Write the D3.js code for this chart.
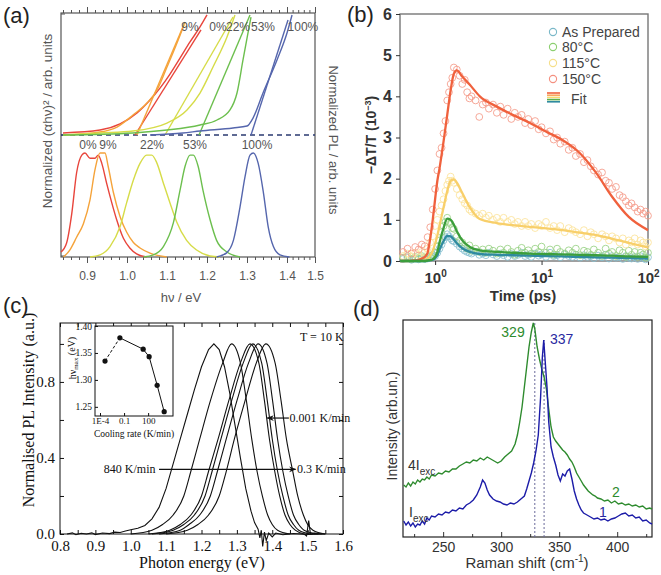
<!DOCTYPE html>
<html><head><meta charset="utf-8">
<script src="https://cdn.jsdelivr.net/npm/d3@7/dist/d3.min.js"></script>
<style>
body{margin:0;background:#fff;}
svg{display:block;}
.sans{font-family:"Liberation Sans",Arial,Helvetica,sans-serif;}
.serif{font-family:"Liberation Serif","Times New Roman",serif;}
</style></head><body>
<svg id="fig" width="661" height="575"></svg>
<script>
// ================= DATA =================
// ---- (a) absorption (αhν)^2 and PL, hv in eV
const aTickLabels=[0.9,1.0,1.1,1.2,1.3,1.4,1.5];
const aSeries=["0%","9%","22%","53%","100%"];
const absRed=[[0.84,0.017],[0.9325,0.041],[0.9825,0.091],[1.025,0.182],[1.0575,0.289],[1.0825,0.388],[1.1075,0.504],[1.1325,0.636],[1.1575,0.769],[1.1825,0.893],[1.20,0.992]];
const absOrange=[[0.84,0],[0.9325,0.025],[0.975,0.066],[1.015,0.165],[1.05,0.264],[1.075,0.372],[1.10,0.562],[1.125,0.76],[1.1425,0.909]];
const absYellow=[[0.84,0],[0.9325,0.017],[1.015,0.033],[1.10,0.099],[1.15,0.207],[1.1825,0.347],[1.215,0.562],[1.25,0.81],[1.27,0.992]];
const absGreen=[[0.84,0],[1.015,0.017],[1.10,0.041],[1.1825,0.083],[1.225,0.124],[1.2575,0.207],[1.275,0.347],[1.29,0.62],[1.3025,0.843],[1.31,0.975]];
const absBlue=[[1.0575,0],[1.14,0.017],[1.1825,0.033],[1.265,0.058],[1.30,0.074],[1.315,0.14],[1.34,0.347],[1.375,0.62],[1.40,0.843],[1.418,0.992]];
const fitRed=[[1.02,0],[1.185,0.868]];
const fitOrange=[[1.025,0],[1.145,0.934]];
const fitYellow=[[1.095,0],[1.265,0.975]];
const fitGreen=[[1.18,0],[1.3075,0.992]];
const fitBlue=[[1.31,0],[1.4036,0.95]];
const plRed=[[0.835,0.048],[0.849,0.135],[0.862,0.42],[0.874,0.81],[0.887,0.98],[0.895,1.0],[0.9075,0.95],[0.92,0.95],[0.928,0.98],[0.937,0.90],[0.949,0.71],[0.962,0.52],[0.974,0.36],[0.991,0.18],[1.007,0.087],[1.024,0.03],[1.049,0]];
const plOrange=[[0.841,0],[0.857,0.067],[0.874,0.19],[0.891,0.32],[0.9075,0.55],[0.92,0.84],[0.9325,1.0],[0.945,1.0],[0.953,0.87],[0.966,0.62],[0.9825,0.39],[0.999,0.24],[1.016,0.14],[1.0325,0.087],[1.0575,0.038],[1.099,0]];
const plYellow=[[0.9075,0],[0.9325,0.02],[0.9575,0.1],[0.9825,0.29],[0.999,0.52],[1.016,0.74],[1.0325,0.90],[1.049,0.98],[1.062,0.98],[1.074,0.91],[1.091,0.71],[1.1075,0.52],[1.124,0.34],[1.149,0.16],[1.174,0.067],[1.2075,0.01],[1.2325,0]];
const plGreen=[[1.041,0],[1.066,0.02],[1.091,0.1],[1.116,0.33],[1.1325,0.64],[1.145,0.87],[1.1575,0.98],[1.166,0.98],[1.178,0.87],[1.19,0.64],[1.2075,0.36],[1.224,0.16],[1.249,0.05],[1.2825,0]];
const plBlue=[[1.224,0],[1.249,0.04],[1.266,0.16],[1.2825,0.48],[1.295,0.77],[1.3075,0.98],[1.316,1.0],[1.328,0.90],[1.341,0.62],[1.353,0.29],[1.366,0.1],[1.3825,0.02],[1.4084,0]];
const absTopLabelHv=[1.2275,1.1575,1.2775,1.34,1.457];   // 0%,9%,22%,53%,100%
const plLabelHv=[0.9025,0.9525,1.0625,1.17,1.325];

// ---- (b) transient absorption, time in ps, -ΔT/T in 1e-3
const bSeries=["As Prepared","80°C","115°C","150°C"];
const bYTicks=[0,1,2,3,4,5,6];
const bXTicks=[1,10,100];
const tB=[0.5,0.55,0.6,0.65,0.7,0.75,0.8,0.85,0.9,0.95,
1.0,1.05,1.1,1.15,1.2,1.25,1.3,1.35,1.4,1.45,
1.5,1.6,1.7,1.8,1.9,2.0,2.1,2.2,2.4,2.6,
2.8,3.0,3.2,3.5,3.8,4.1,4.4,4.8,5.2,5.6,
6.0,6.5,7.0,7.5,8.0,8.7,9.4,10,11,12,
13,14,15,16.5,18,19.5,21,23,25,27,
29,31,34,37,40,43,46,50,54,58,
62,66,70,75,80,85,90,95,100];
const v150=[.22,.30,.18,.34,.28,.40,.36,.58,.82,1.25,
1.75,2.2,2.6,2.75,3.1,3.4,3.9,4.1,4.3,4.45,
4.7,4.65,4.5,4.3,4.4,4.1,3.95,4.0,3.9,3.5,
3.8,3.85,3.7,3.8,3.6,3.75,3.55,3.7,3.45,3.6,
3.5,3.55,3.35,3.45,3.3,3.4,3.2,3.25,3.1,3.15,
2.95,3.0,2.85,2.9,2.7,2.75,2.55,2.6,2.4,2.45,
2.3,2.2,2.1,2.15,1.95,1.9,1.75,1.8,1.6,1.55,
1.45,1.35,1.4,1.3,1.2,1.25,1.15,1.2,1.1];
const v115=[.12,.18,.10,.20,.15,.22,.20,.30,.45,.60,
.85,1.0,1.2,1.35,1.5,1.7,1.85,1.95,2.05,1.95,
1.9,1.75,1.6,1.5,1.4,1.35,1.25,1.2,1.15,1.1,
1.15,1.05,1.1,1.0,1.05,.95,1.05,.95,1.0,.9,
.95,.85,.95,.85,.9,.8,.9,.85,.95,.8,
.85,.75,.85,.7,.8,.75,.7,.65,.75,.6,
.7,.65,.55,.65,.6,.5,.6,.55,.45,.55,
.4,.5,.45,.55,.4,.5,.45,.35,.45];
const v80=[.08,.12,.05,.10,.06,.12,.08,.10,.12,.15,
.20,.35,.50,.70,.85,.95,1.05,.95,.90,.80,
.78,.60,.50,.45,.35,.30,.38,.25,.30,.22,
.28,.20,.30,.25,.18,.28,.20,.30,.22,.15,
.25,.32,.20,.26,.18,.30,.22,.35,.20,.28,
.15,.30,.22,.18,.26,.20,.30,.14,.25,.22,
.15,.28,.20,.12,.30,.18,.22,.12,.26,.20,
.10,.25,.15,.22,.10,.20,.16,.08,.20];
const vAP=[.05,.08,.03,.06,.04,.07,.05,.06,.08,.10,
.12,.20,.30,.40,.50,.58,.65,.60,.55,.50,
.48,.42,.35,.30,.25,.22,.20,.18,.22,.15,
.18,.14,.20,.16,.12,.18,.14,.10,.17,.12,
.15,.20,.12,.15,.10,.18,.13,.16,.10,.20,
.12,.14,.09,.16,.12,.10,.15,.08,.14,.10,
.12,.07,.13,.09,.15,.06,.12,.08,.10,.05,
.12,.08,.06,.10,.05,.12,.07,.04,.09];
const tFit=[0.47,0.6,0.7,0.8,0.85,0.9,0.95,1.0,1.05,1.1,1.2,1.3,1.4,1.5,1.6,1.8,2.12,2.63,3.8,5.35,7.7,11.1,15.7,22.7,32.6,46,66,100];
const fit150=[0,0.01,0.03,0.1,0.2,0.55,1.0,1.5,1.95,2.25,2.9,3.55,4.15,4.55,4.63,4.48,4.28,4.0,3.75,3.55,3.36,3.14,2.94,2.63,2.14,1.56,1.07,0.75];
const fit115=[0,0,0.01,0.03,0.06,0.13,0.25,0.42,0.62,0.85,1.3,1.7,1.95,1.98,1.9,1.65,1.3,1.02,0.92,0.87,0.83,0.79,0.75,0.69,0.63,0.54,0.44,0.33];
const fit80=[0,0,0,0,0.01,0.02,0.04,0.1,0.22,0.45,0.8,1.03,1.0,0.88,0.72,0.5,0.34,0.26,0.22,0.2,0.18,0.17,0.16,0.15,0.14,0.13,0.11,0.1];
const fitAP=[0,0,0,0,0.01,0.02,0.03,0.07,0.14,0.27,0.48,0.61,0.6,0.52,0.43,0.31,0.22,0.17,0.15,0.14,0.13,0.12,0.11,0.1,0.09,0.08,0.07,0.06];

// ---- (c) PL spectra at T = 10 K
const cXTicks=[0.8,0.9,1.0,1.1,1.2,1.3,1.4,1.5,1.6];
const cYTicks=[0.0,0.4,0.8];
const cLevels=[0,0.02,0.05,0.1,0.2,0.33,0.5,0.7,0.9,1,0.9,0.7,0.5,0.33,0.2,0.1,0.05,0.02,0];
const c840=[[0.82,0.0],[0.835,0.006],[0.845,-0.004],[0.86,0.004],[0.875,0.0],[0.89,0.006],[0.9,-0.003],[0.92,0.005],[0.94,0.002],[0.955,0.01],[0.97,0.008],[0.985,0.016],[1.0,0.022],[1.02,0.03],[1.04,0.045],[1.06,0.08],[1.08,0.14],[1.1,0.24],[1.12,0.37],[1.14,0.5],[1.16,0.63],[1.18,0.76],[1.2,0.88],[1.22,0.97],[1.235,1.0],[1.25,0.97],[1.265,0.88],[1.28,0.74],[1.295,0.57],[1.31,0.4],[1.325,0.24],[1.34,0.12],[1.35,0.06],[1.36,0.025],[1.365,-0.02],[1.369,0.02],[1.373,-0.065],[1.378,0.01],[1.383,-0.035],[1.39,0.005],[1.4,-0.015],[1.41,0.005],[1.43,-0.004],[1.46,0.003],[1.5,-0.003],[1.55,0.0]];
const cE1285=[1.0,1.06,1.09,1.12,1.15,1.17,1.195,1.225,1.26,1.285,1.31,1.327,1.342,1.357,1.372,1.387,1.40,1.415,1.45];
const cE1337=[1.05,1.11,1.14,1.17,1.2,1.22,1.247,1.277,1.31,1.337,1.362,1.378,1.392,1.407,1.421,1.436,1.45,1.465,1.49];
const cE1345=[1.06,1.12,1.15,1.18,1.21,1.23,1.255,1.285,1.318,1.345,1.37,1.386,1.4,1.415,1.43,1.445,1.46,1.475,1.51];
const cE1360=[1.08,1.14,1.165,1.195,1.225,1.245,1.27,1.3,1.333,1.36,1.385,1.401,1.415,1.43,1.445,1.46,1.475,1.49,1.53];
const cE1382=[1.1,1.16,1.19,1.22,1.25,1.27,1.293,1.323,1.355,1.382,1.408,1.425,1.44,1.458,1.472,1.488,1.5,1.515,1.55];
const cSpike=[[1.49,0],[1.497,-0.01],[1.503,0.07],[1.508,0.0],[1.52,0.005],[1.54,0]];
// inset: cooling rate (K/min) vs hv_max (eV)
const insetRate=[4.2e-4,0.03,24,133,1333,1e4];
const insetHv=[1.335,1.378,1.357,1.343,1.29,1.241];
const insetXTicks=[1e-4,0.1,100];
const insetYTicks=[1.25,1.30,1.35,1.40];

// ---- (d) Raman
const dXTicks=[250,300,350,400];
const ramanGreen=[[216,52],[218,50],[220,54],[222,51],[224,55],[226,53],[228,57],[230,55],[232,58],[234,57],[236,60],[238,58],[240,62],[243,61],[246,64],[249,63],[252,66],[255,65],[258,68],[261,68],[264,71],[267,73],[270,75],[273,74],[276,77],[279,76],[282,79],[285,77],[288,80],[291,78],[294,76],[297,74],[300,76],[303,80],[306,83],[309,86],[312,93],[314,102],[316,115],[318,130],[320,150],[322,170],[324,190],[326,205],[327.7,214],[329,208],[331,190],[333,178],[335,168],[337,160],[339,148],[341,128],[343,110],[345,100],[347,96],[349,93],[351,90],[353,87],[355,85],[357,82],[359,78],[361,75],[363,70],[365,64],[367,60],[369,56],[371,52],[373,49],[375,46],[377,44],[379,42],[381,41],[383,39],[386,38],[389,36],[392,37],[395,34],[398,36],[401,33],[404,34],[407,32],[410,33],[413,31],[416,32],[419,30],[422,31],[425,28],[428,29],[430,28]];
const ramanBlue=[[216,16],[218,12],[220,15],[222,11],[224,14],[226,10],[228,13],[230,12],[232,16],[234,13],[236,19],[238,17],[240,21],[243,20],[246,23],[249,22],[252,25],[255,24],[258,27],[261,26],[264,29],[267,28],[270,32],[273,34],[276,37],[279,42],[282,50],[284,57],[286,54],[288,47],[290,42],[293,38],[296,36],[299,35],[302,33],[305,32],[308,34],[311,33],[314,35],[317,38],[320,41],[322,48],[324,56],[326,64],[328,74],[330,86],[332,102],[334,140],[335.5,180],[336.7,197],[338,175],[339.5,150],[341,115],[343,90],[345,80],[347,72],[349,62],[351,56],[353,63],[355,61],[357,66],[359,68],[361,58],[363,46],[365,38],[367,32],[369,27],[371,24],[374,22],[377,20],[380,18],[383,19],[386,17],[389,18],[392,16],[395,18],[398,19],[401,21],[404,23],[407,24],[410,21],[413,22],[416,19],[419,20],[422,16],[425,17],[428,14],[430,13]];
const ramanPeaks=[329,337];

// ================= DRAWING =================
const svg=d3.select("#fig");
const mk=(xs,ys,curve)=>d3.line().x(d=>xs(d[0])).y(d=>ys(d[1])).curve(curve||d3.curveMonotoneX);
function styleAxis(g,color,size,family){
  g.select(".domain").remove();
  g.selectAll("line").attr("stroke",color);
  g.selectAll("text").attr("fill",color);
  g.attr("font-size",size).attr("font-family",family);
}
function rtext(g,x,y,rot,str,size,fill,weight,cls){
  return g.append("text").attr("transform",`translate(${x},${y}) rotate(${rot})`)
    .attr("text-anchor","middle").attr("font-size",size).attr("fill",fill)
    .attr("font-weight",weight||"normal").attr("class",cls||"sans").text(str);
}

// ---------- (a) ----------
{
const SANS='"Liberation Sans",Arial,sans-serif';
const ax=d3.scaleLinear().domain([0.835,1.4,1.5]).range([61,287,315]);
const ayA=d3.scaleLinear().domain([0,1]).range([135,14]);
const ayP=d3.scaleLinear().domain([0,1]).range([257,153]);
const g=svg.append("g");
const aMinor=d3.range(42,76).map(i=>i/50);
g.append("g").attr("transform","translate(0,13)").call(d3.axisTop(ax).tickValues(aMinor).tickSize(3).tickFormat("")).call(s=>styleAxis(s,"#555",12,SANS));
g.append("g").attr("transform","translate(0,13)").call(d3.axisTop(ax).tickValues(aTickLabels).tickSize(6).tickFormat("")).call(s=>styleAxis(s,"#555",12,SANS));
g.append("g").attr("transform","translate(0,257)").call(d3.axisBottom(ax).tickValues(aMinor).tickSize(3).tickFormat("")).call(s=>styleAxis(s,"#555",12,SANS));
g.append("g").attr("transform","translate(0,257)").call(d3.axisBottom(ax).tickValues(aTickLabels).tickSize(6).tickPadding(8).tickFormat(d3.format(".1f"))).call(s=>styleAxis(s,"#555",12,SANS));
g.append("rect").attr("x",61).attr("y",13).attr("width",254).attr("height",244).attr("fill","none").attr("stroke","#555").attr("stroke-width",1.2);
[14,135,256].forEach(y=>g.append("line").attr("x1",61).attr("x2",65).attr("y1",y).attr("y2",y).attr("stroke","#555"));
g.append("line").attr("x1",ax(0.835)).attr("x2",ax(1.5)).attr("y1",ayA(0)).attr("y2",ayA(0)).attr("stroke","#2a3a70").attr("stroke-width",1.3).attr("stroke-dasharray","5,4");
const col={"0%":"#e8453c","9%":"#f5a33a","22%":"#d6dc48","53%":"#6cbf4e","100%":"#5566ad"};
const absSets=[[absRed,fitRed,plRed],[absOrange,fitOrange,plOrange],[absYellow,fitYellow,plYellow],[absGreen,fitGreen,plGreen],[absBlue,fitBlue,plBlue]];
absSets.forEach((s,i)=>{
  const c=col[aSeries[i]];
  g.append("path").attr("d",mk(ax,ayA)(s[0])).attr("fill","none").attr("stroke",c).attr("stroke-width",1.4);
  g.append("path").attr("d",mk(ax,ayA,d3.curveLinear)(s[1])).attr("fill","none").attr("stroke",c).attr("stroke-width",1.4);
  g.append("path").attr("d",mk(ax,ayP)(s[2])).attr("fill","none").attr("stroke",c).attr("stroke-width",1.4);
});
aSeries.forEach((n,i)=>{
  g.append("text").attr("class","sans").attr("x",ax(absTopLabelHv[i])).attr("y",31).attr("text-anchor","middle").attr("font-size",12).attr("fill","#555").text(n);
  g.append("text").attr("class","sans").attr("x",ax(plLabelHv[i])).attr("y",149).attr("text-anchor","middle").attr("font-size",12).attr("fill","#555").text(n);
});
g.append("text").attr("class","sans").attr("x",181).attr("y",302).attr("text-anchor","middle").attr("font-size",13).attr("fill","#555").text("hν / eV");
rtext(g,52,121,-90,"Normalized (αhν)² / arb. units",13.5,"#555");
rtext(g,329,140,90,"Normalized PL / arb. units",13,"#555");
g.append("text").attr("class","sans").attr("x",3).attr("y",23).attr("font-size",22).attr("fill","#222").text("(a)");
}

// ---------- (b) ----------
{
const SANS='"Liberation Sans",Arial,sans-serif';
const bx=d3.scaleLog().domain([0.468,100]).range([400,648]);
const by=d3.scaleLinear().domain([0,6]).range([261,14]);
const g=svg.append("g");
g.append("rect").attr("x",400).attr("y",14).attr("width",248).attr("height",247).attr("fill","none").attr("stroke","#777").attr("stroke-width",1.4);
g.append("g").attr("transform","translate(400,0)").call(d3.axisLeft(by).tickValues(bYTicks).tickSize(4).tickPadding(4).tickFormat(d3.format("d"))).call(s=>styleAxis(s,"#333",16,SANS)).selectAll("text").attr("font-weight","bold");
const xa=g.append("g").attr("transform","translate(0,261)").call(d3.axisBottom(bx).tickValues(bXTicks).tickSize(4).tickPadding(4).tickFormat(d=>"")).call(s=>styleAxis(s,"#333",15,SANS));
xa.selectAll(".tick text").each(function(d){
  const t=d3.select(this).attr("font-weight","bold").attr("dy","0.9em");
  t.append("tspan").text("10");
  t.append("tspan").attr("font-size",10).attr("dy","-0.6em").text(Math.round(Math.log10(d)));
});
const circC=["#86bfd0","#98d184","#fbe39a","#f49a88"];
const fitC=["#2f8aa0","#3c9e3c","#f8cf6a","#f0613d"];
const vals=[vAP,v80,v115,v150];
const fits=[fitAP,fit80,fit115,fit150];
vals.forEach((v,k)=>{
  g.append("g").selectAll("circle").data(tB.map((t,i)=>[t,v[i]])).join("circle")
   .attr("cx",d=>bx(d[0])).attr("cy",d=>by(d[1])).attr("r",3.4).attr("fill","none").attr("stroke",circC[k]).attr("stroke-width",1).attr("opacity",0.85);
});
[2,3,0,1].forEach(k=>{
  g.append("path").attr("d",mk(bx,by)(tFit.map((t,i)=>[t,fits[k][i]]))).attr("fill","none").attr("stroke",fitC[k]).attr("stroke-width",2.3);
});
const legY=[32,47,63,79];
const legC=["#7ab8c8","#8ccf70","#f5df8a","#f49080"];
bSeries.forEach((n,i)=>{
  g.append("circle").attr("cx",553).attr("cy",legY[i]).attr("r",3.6).attr("fill","none").attr("stroke",legC[i]).attr("stroke-width",1.1);
  g.append("text").attr("class","sans").attr("x",562).attr("y",legY[i]+5).attr("font-size",14).attr("fill","#444").text(n);
});
["#f0613d","#f8a860","#f8d870","#5cb04c","#2f8aa0"].forEach((c,i)=>{
  g.append("line").attr("x1",547).attr("x2",560).attr("y1",93+i*2.2).attr("y2",93+i*2.2).attr("stroke",c).attr("stroke-width",1.6);
});
g.append("text").attr("class","sans").attr("x",571).attr("y",104).attr("font-size",14).attr("fill","#444").text("Fit");
const yl=g.append("text").attr("transform","translate(376,135) rotate(-90)").attr("text-anchor","middle").attr("class","sans").attr("font-size",14).attr("font-weight","bold").attr("fill","#333");
yl.append("tspan").text("−ΔT/T (10");
yl.append("tspan").attr("font-size",9).attr("dy","-0.6em").text("−3");
yl.append("tspan").attr("dy","0.4em").text(")");
g.append("text").attr("class","sans").attr("x",523).attr("y",301).attr("text-anchor","middle").attr("font-size",15).attr("font-weight","bold").attr("fill","#333").text("Time (ps)");
g.append("text").attr("class","sans").attr("x",347).attr("y",22).attr("font-size",22).attr("fill","#222").text("(b)");
}

// ---------- (c) ----------
{
const SERIF='"Liberation Serif","Times New Roman",serif';
const cx=d3.scaleLinear().domain([0.8,1.6]).range([60,343]);
const cy=d3.scaleLinear().domain([0,1.11]).range([534,323]);
const g=svg.append("g");
const minorX=d3.range(16,33).map(i=>i/20);
g.append("g").attr("transform","translate(0,323)").call(d3.axisTop(cx).tickValues(minorX).tickSizeInner(-4).tickSizeOuter(0).tickFormat("")).call(s=>styleAxis(s,"#111",14,SERIF));
g.append("g").attr("transform","translate(0,534)").call(d3.axisBottom(cx).tickValues(minorX).tickSizeInner(-4).tickSizeOuter(0).tickFormat("")).call(s=>styleAxis(s,"#111",14,SERIF));
g.append("g").attr("transform","translate(0,534)").call(d3.axisBottom(cx).tickValues(cXTicks).tickSizeInner(0).tickPadding(6).tickFormat(d3.format(".1f"))).call(s=>styleAxis(s,"#111",15,SERIF));
g.append("g").attr("transform","translate(60,0)").call(d3.axisLeft(cy).tickValues([0,0.2,0.4,0.6,0.8,1.0]).tickSizeInner(-4).tickFormat("")).call(s=>styleAxis(s,"#111",15,SERIF));
g.append("g").attr("transform","translate(60,0)").call(d3.axisLeft(cy).tickValues(cYTicks).tickSizeInner(0).tickPadding(5).tickFormat(d3.format(".1f"))).call(s=>styleAxis(s,"#111",15,SERIF));
g.append("g").attr("transform","translate(343,0)").call(d3.axisRight(cy).tickValues([0,0.2,0.4,0.6,0.8,1.0]).tickSizeInner(-4).tickFormat("")).call(s=>styleAxis(s,"#111",15,SERIF));
g.append("rect").attr("x",60).attr("y",323).attr("width",283).attr("height",211).attr("fill","none").attr("stroke","#111").attr("stroke-width",1);
const ln=mk(cx,cy);
g.append("path").attr("d",d3.line().x(d=>cx(d[0])).y(d=>cy(d[1])).curve(d3.curveLinear)(c840)).attr("fill","none").attr("stroke","#111").attr("stroke-width",1.1);
[cE1285,cE1337,cE1345,cE1360,cE1382].forEach(E=>{
  g.append("path").attr("d",ln(E.map((e,i)=>[e,cLevels[i]]))).attr("fill","none").attr("stroke","#111").attr("stroke-width",1.1);
});
g.append("path").attr("d",d3.line().x(d=>cx(d[0])).y(d=>cy(d[1]))(cSpike)).attr("fill","none").attr("stroke","#111").attr("stroke-width",1.1);
const defs=svg.append("defs");
defs.append("marker").attr("id","ah").attr("viewBox","0 0 10 10").attr("refX",9).attr("refY",5).attr("markerWidth",7).attr("markerHeight",6).attr("orient","auto-start-reverse")
  .append("path").attr("d","M0,1 L10,5 L0,9 L3,5 Z").attr("fill","#111");
g.append("line").attr("x1",cx(1.447)).attr("x2",cx(1.386)).attr("y1",cy(0.61)).attr("y2",cy(0.61)).attr("stroke","#111").attr("stroke-width",1.2).attr("marker-end","url(#ah)");
g.append("text").attr("class","serif").attr("x",cx(1.449)).attr("y",cy(0.61)+4).attr("font-size",12).attr("fill","#111").text("0.001 K/min");
g.append("line").attr("x1",cx(1.08)).attr("x2",cx(1.466)).attr("y1",cy(0.34)).attr("y2",cy(0.34)).attr("stroke","#111").attr("stroke-width",1.2).attr("marker-end","url(#ah)");
g.append("text").attr("class","serif").attr("x",cx(1.07)).attr("y",cy(0.34)+4).attr("text-anchor","end").attr("font-size",12).attr("fill","#111").text("840 K/min");
g.append("text").attr("class","serif").attr("x",cx(1.47)).attr("y",cy(0.34)+4).attr("font-size",12).attr("fill","#111").text("0.3 K/min");
g.append("text").attr("class","serif").attr("x",300).attr("y",341).attr("font-size",12).attr("fill","#111").text("T = 10 K");
g.append("text").attr("class","serif").attr("x",202).attr("y",568).attr("text-anchor","middle").attr("font-size",16).attr("fill","#111").text("Photon energy (eV)");
rtext(g,34,410,-90,"Normalised PL Intensity (a.u.)",16,"#111","normal","serif");
g.append("text").attr("class","sans").attr("x",3).attr("y",313).attr("font-size",22).attr("fill","#222").text("(c)");
// inset
const ix=d3.scaleLog().domain([Math.pow(10,-4.625),Math.pow(10,5.1)]).range([95,173]);
const iy=d3.scaleLinear().domain([1.233,1.40]).range([416,326]);
const gi=g.append("g");
gi.append("rect").attr("x",95).attr("y",326).attr("width",78).attr("height",90).attr("fill","#fff").attr("stroke","#111");
gi.append("g").attr("transform","translate(95,0)").call(d3.axisLeft(iy).tickValues(insetYTicks).tickSizeInner(-3).tickPadding(3).tickFormat(d3.format(".2f"))).call(s=>styleAxis(s,"#111",9.5,SERIF));
gi.append("g").attr("transform","translate(0,416)").call(d3.axisBottom(ix).tickValues(insetXTicks).tickSizeInner(-3).tickPadding(2).tickFormat(d=>d===1e-4?"1E-4":d3.format("")(d))).call(s=>styleAxis(s,"#111",9,SERIF));
const ipts=insetRate.map((r,i)=>[r,insetHv[i]]);
gi.append("path").attr("d",d3.line().x(d=>ix(d[0])).y(d=>iy(d[1]))(ipts.slice(0,2))).attr("fill","none").attr("stroke","#111").attr("stroke-dasharray","3,2");
gi.append("path").attr("d",d3.line().x(d=>ix(d[0])).y(d=>iy(d[1]))(ipts.slice(1))).attr("fill","none").attr("stroke","#111");
gi.selectAll("circle").data(ipts).join("circle").attr("cx",d=>ix(d[0])).attr("cy",d=>iy(d[1])).attr("r",2.6).attr("fill","#111");
gi.append("text").attr("class","serif").attr("x",134).attr("y",437).attr("text-anchor","middle").attr("font-size",9.5).attr("fill","#111").text("Cooling rate (K/min)");
const iyl=gi.append("text").attr("class","serif").attr("transform","translate(76,358) rotate(-90)").attr("text-anchor","middle").attr("font-size",10).attr("fill","#111");
iyl.append("tspan").text("hν");
iyl.append("tspan").attr("font-size",7).attr("dy","0.35em").text("max");
iyl.append("tspan").attr("dy","-0.35em").text(" (eV)");
}

// ---------- (d) ----------
{
const SANS='"Liberation Sans",Arial,sans-serif';
const dx=d3.scaleLinear().domain([215.4,430]).range([403,652]);
const dy=d3.scaleLinear().domain([0,217]).range([537,320]);
const g=svg.append("g");
g.append("g").attr("transform","translate(0,537)").call(d3.axisBottom(dx).tickValues([225,275,325,375,425]).tickSizeInner(-3).tickSizeOuter(0).tickFormat("")).call(s=>styleAxis(s,"#333",14,SANS));
g.append("g").attr("transform","translate(0,537)").call(d3.axisBottom(dx).tickValues(dXTicks).tickSizeInner(-5).tickSizeOuter(0).tickPadding(5).tickFormat(d3.format("d"))).call(s=>styleAxis(s,"#333",14,SANS));
g.append("rect").attr("x",403).attr("y",320).attr("width",249).attr("height",217).attr("fill","none").attr("stroke","#222").attr("stroke-width",1.2);
const peakTop=[214,197];
ramanPeaks.forEach((p,i)=>{
  g.append("line").attr("x1",dx(p)).attr("x2",dx(p)).attr("y1",dy(0)).attr("y2",dy(peakTop[i])).attr("stroke","#6a6a9a").attr("stroke-width",1).attr("stroke-dasharray","2,2");
});
const ln=d3.line().x(d=>dx(d[0])).y(d=>dy(d[1]));
g.append("path").attr("d",ln(ramanGreen)).attr("fill","none").attr("stroke","#2e8b2e").attr("stroke-width",1.4);
g.append("path").attr("d",ln(ramanBlue)).attr("fill","none").attr("stroke","#1c1ca8").attr("stroke-width",1.4);
g.append("text").attr("class","sans").attr("x",513).attr("y",337).attr("text-anchor","middle").attr("font-size",14).attr("fill","#2e8b2e").text("329");
g.append("text").attr("class","sans").attr("x",550).attr("y",344).attr("font-size",14).attr("fill","#2a2aa0").text("337");
const t4=g.append("text").attr("class","sans").attr("x",408).attr("y",470).attr("font-size",14).attr("fill","#333");
t4.append("tspan").text("4I"); t4.append("tspan").attr("font-size",10).attr("dy","0.45em").text("exc");
const t1=g.append("text").attr("class","sans").attr("x",409).attr("y",517).attr("font-size",14).attr("fill","#333");
t1.append("tspan").text("I"); t1.append("tspan").attr("font-size",10).attr("dy","0.45em").text("exc");
g.append("text").attr("class","sans").attr("x",612).attr("y",497).attr("font-size",14).attr("fill","#2e8b2e").text("2");
g.append("text").attr("class","sans").attr("x",599).attr("y",517).attr("font-size",14).attr("fill","#2a2aa0").text("1");
const xl=g.append("text").attr("class","sans").attr("x",527).attr("y",568).attr("text-anchor","middle").attr("font-size",15).attr("fill","#333");
xl.append("tspan").text("Raman shift (cm"); xl.append("tspan").attr("font-size",10).attr("dy","-0.6em").text("-1"); xl.append("tspan").attr("dy","0.4em").text(")");
rtext(g,397,426,-90,"Intensity (arb.un.)",14,"#333");
g.append("text").attr("class","sans").attr("x",353).attr("y",316).attr("font-size",22).attr("fill","#222").text("(d)");
}
</script>
</body></html>
